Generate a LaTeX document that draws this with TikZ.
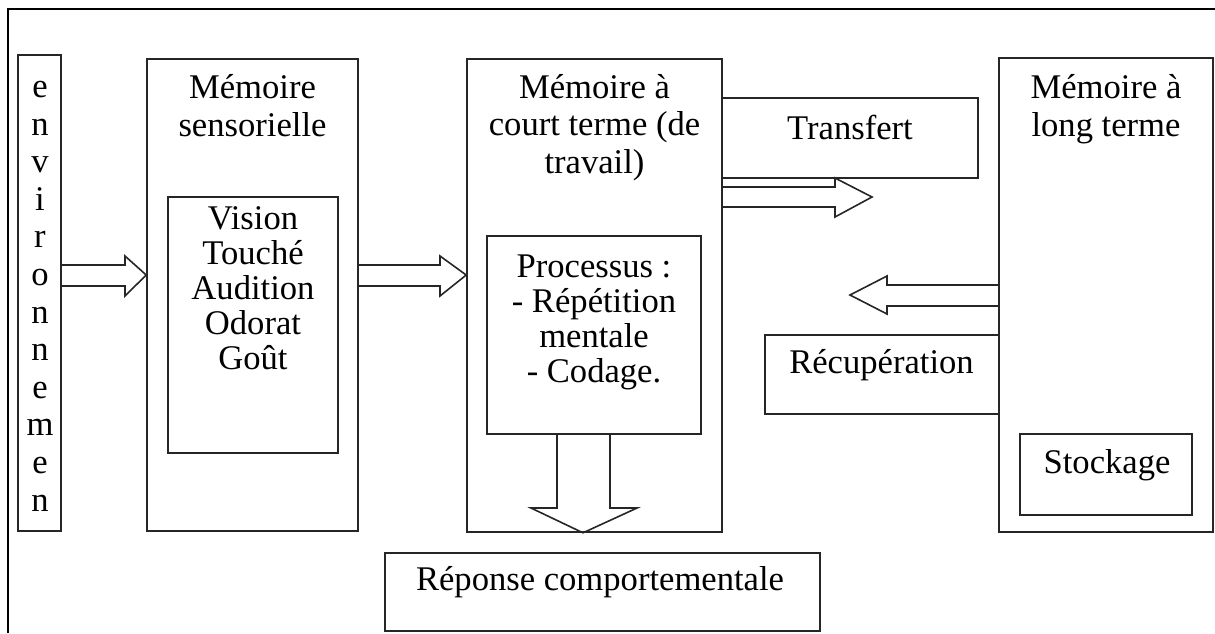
\documentclass[tikz,border=0pt]{standalone}
\usepackage{fontspec}
\setmainfont{Liberation Serif}
\usetikzlibrary{fit}
\begin{document}
\begin{tikzpicture}[x=0.5pt,y=-0.5pt,
  frame/.style={draw=black, line width=1.3pt},
  box/.style={draw=black!85, line width=0.8pt, inner sep=0pt},
  fat/.style={draw=black!85, line width=0.8pt, line join=miter},
  txt/.style={inner sep=0pt, anchor=base, align=center, font=\fontsize{17.3}{18.75}\selectfont},
  txtin/.style={txt, font=\fontsize{17.3}{17.5}\selectfont}]
\useasboundingbox (0,0) rectangle (1215,633);

% outer frame (left and top edges)
\draw[frame] (8,633) -- (8,9) -- (1215,9);

% boxes
\node[box, fit={(18,55) (61,531)}] (env) {};
\node[box, fit={(147,59) (358,531)}] (sens) {};
\node[box, fit={(168,197) (338,453)}] (senses) {};
\node[box, fit={(467,59) (722,532)}] (court) {};
\node[box, fit={(487,236) (701,434)}] (proc) {};
\node[box, fit={(722,98) (978,178)}] (transf) {};
\node[box, fit={(999,58) (1213,532)}] (long) {};
\node[box, fit={(1020,434) (1192,515)}] (stock) {};
\node[box, fit={(765,335) (999,414)}] (recup) {};
\node[box, fit={(385,553) (820,631)}] (rep) {};

% texts (multi-line nodes are placed by the baseline of their last line)
\node[txt, font=\fontsize{17.3}{18.8}\selectfont] (envtxt) at (40,511)
  {e\\n\\v\\i\\r\\o\\n\\n\\e\\m\\e\\n};
\node[txt] (senstxt) at (252.5,136) {Mémoire\\sensorielle};
\node[txtin] (sensestxt) at (253,369) {Vision\\Touché\\Audition\\Odorat\\Goût};
\node[txt] (courttxt) at (594.5,173) {Mémoire à\\court terme (de\\travail)};
\node[txtin] (proctxt) at (594,382) {Processus :\\- Répétition\\mentale\\- Codage.};
\node[txt] (transftxt) at (850,139) {Transfert};
\node[txt] (longtxt) at (1106,136) {Mémoire à\\long terme};
\node[txt] (recuptxt) at (881.5,373) {Récupération};
\node[txt] (stocktxt) at (1107,473) {Stockage};
\node[txt] (reptxt) at (600,590) {Réponse comportementale};

% block arrows
\draw[fat] (env.east |- 0,265) -- (125,265) -- (125,256) -- (sens.west |- 0,275)
  -- (125,296) -- (125,286) -- (env.east |- 0,286);
\draw[fat] (sens.east |- 0,265) -- (440,265) -- (440,256) -- (court.west |- 0,275)
  -- (440,296) -- (440,286) -- (sens.east |- 0,286);
\draw[fat] (court.east |- 0,187) -- (835,187) -- (835,178) -- (872,197)
  -- (835,217) -- (835,207) -- (court.east |- 0,207);
\draw[fat] (long.west |- 0,285) -- (887,285) -- (887,276) -- (850,295)
  -- (887,314) -- (887,306) -- (long.west |- 0,306);
\draw[fat] (proc.south -| 557,0) -- (557,508) -- (531,508) -- (court.south -| 583,0)
  -- (637,508) -- (610,508) -- (proc.south -| 610,0);
\end{tikzpicture}
\end{document}
